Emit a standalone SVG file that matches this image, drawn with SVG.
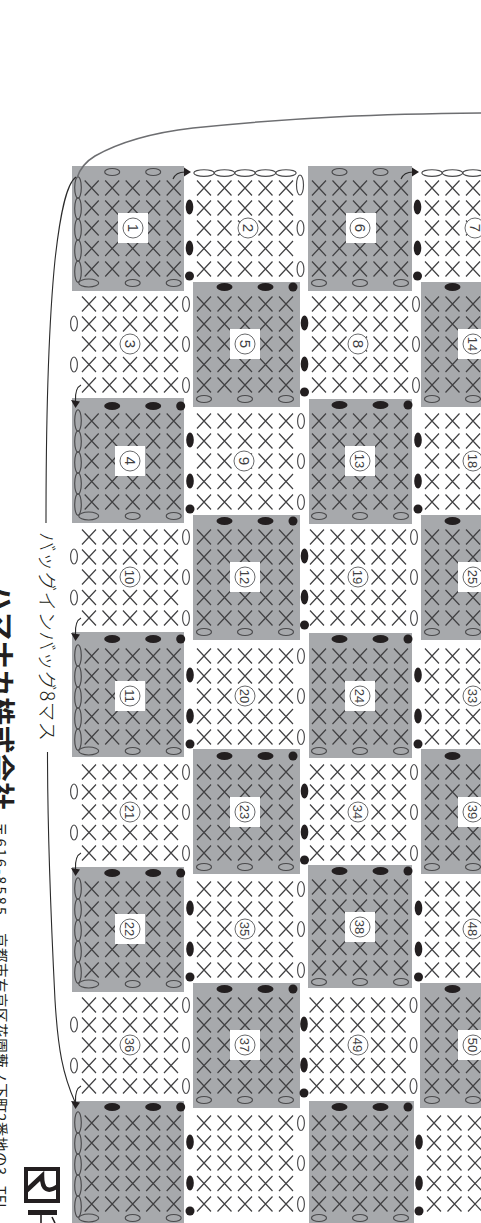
<svg xmlns="http://www.w3.org/2000/svg" width="481" height="1223" viewBox="0 0 481 1223">
<style>
.g{fill:#a7a9ac}
.w{fill:#fff}
.xm{fill:none;stroke:#404042;stroke-width:1.2}
.o{fill:none;stroke:#4a4a4c;stroke-width:1.15}
.k{fill:#231f20}
.n{fill:#fff;stroke:#58595b;stroke-width:.9}
.d{font-family:"Liberation Sans",Arial,sans-serif;font-size:15px;fill:#404042;text-anchor:middle}
.dd{font-size:13px}
.c{fill:none;stroke:#2b2b2b;stroke-width:1.1}
.t{font-family:"Noto Sans CJK JP","Noto Sans",sans-serif;fill:#231f20}
</style>
<defs>
<path id="x" class="xm" d="M-7-7.5L7 7.5M7-7.5L-7 7.5"/>
<g id="xr"><use href="#x" x="-41"/><use href="#x" x="-20.5"/><use href="#x"/><use href="#x" x="20.5"/><use href="#x" x="41"/></g>
<g id="xg"><use href="#xr" y="-40"/><use href="#xr" y="-20"/><use href="#xr"/><use href="#xr" y="20.5"/><use href="#xr" y="41"/></g>
<g id="topB"><ellipse class="k" cx="-20.5" cy="-56" rx="8" ry="4"/><ellipse class="k" cx="20.5" cy="-56" rx="8" ry="4"/><circle class="k" cx="48" cy="-56" r="4.5"/></g>
<g id="topO"><ellipse class="o" cx="-20.5" cy="-56" rx="7.5" ry="3.5"/><ellipse class="o" cx="20.5" cy="-56" rx="7.5" ry="3.5"/></g>
<g id="bot"><ellipse class="o" cx="-41" cy="55" rx="7.5" ry="3.5"/><ellipse class="o" cy="55" rx="7.5" ry="3.5"/><ellipse class="o" cx="41" cy="55" rx="7.5" ry="3.5"/></g>
<g id="botA"><ellipse class="o" cx="-44" cy="55" rx="10" ry="4"/><ellipse class="o" cy="55" rx="7.5" ry="3.5"/><ellipse class="o" cx="41" cy="55" rx="7.5" ry="3.5"/></g>
<g id="chain"><ellipse class="o" cy="-40.5" rx="3.3" ry="10.8"/><ellipse class="o" cy="-19.5" rx="3.3" ry="10.8"/><ellipse class="o" cy="1.5" rx="3.3" ry="10.8"/><ellipse class="o" cy="22.5" rx="3.3" ry="10.8"/><ellipse class="o" cy="43.5" rx="3.3" ry="10.8"/></g>
<g id="side"><ellipse class="k" cy="-21" rx="3.8" ry="7.5"/><ellipse class="k" cy="20" rx="3.8" ry="7.5"/><circle class="k" cy="48" r="4.5"/></g>
<ellipse id="z" class="o" rx="3.4" ry="7.5"/>
<g id="zr"><use href="#z" y="-40"/><use href="#z"/><use href="#z" y="41"/></g>
<g id="zl"><use href="#z" y="-20.5"/><use href="#z" y="20.5"/></g>
<g id="top1"><ellipse class="o" cx="-41" cy="-55" rx="10.2" ry="3.3"/><ellipse class="o" cx="-20.5" cy="-55" rx="10.2" ry="3.3"/><ellipse class="o" cy="-55" rx="10.2" ry="3.3"/><ellipse class="o" cx="20.5" cy="-55" rx="10.2" ry="3.3"/><ellipse class="o" cx="41" cy="-55" rx="10.2" ry="3.3"/></g>
<g id="arr"><path class="c" d="M81-1C77 1 75 5 75.500 15"/><path class="k" d="M71 14L80 15.500L75.500 22Z"/></g>
<g id="arrR"><path class="c" d="M0 7C2 2 6 0 12 0"/><path class="k" d="M11-4.500L18 0L11 4.500Z"/></g>
</defs>

<g id="cell-1"><rect class="g" x="72" y="166" width="112" height="125"/><use href="#xg" x="132.700" y="228"/><use href="#chain" x="78" y="228"/><use href="#topO" x="132.700" y="228"/><use href="#botA" x="132.700" y="228"/><rect class="w" x="118" y="213" width="30" height="30"/><circle class="n" cx="133" cy="228" r="10"/><text class="d" transform="translate(133,228) rotate(90)" dy=".35em">1</text></g>
<g id="cell-3"><use href="#xg" x="130" y="344"/><use href="#zr" x="186" y="344"/><use href="#zl" x="74" y="344"/><circle class="n" cx="130" cy="344" r="10"/><text class="d" transform="translate(130,344) rotate(90)" dy=".35em">3</text></g>
<g id="cell-4"><rect class="g" x="72" y="398" width="112" height="125"/><use href="#xg" x="132.700" y="461"/><use href="#chain" x="78" y="461"/><use href="#topB" x="132.700" y="462"/><use href="#botA" x="132.700" y="461"/><rect class="w" x="115" y="446" width="30" height="30"/><circle class="n" cx="130" cy="461" r="10"/><text class="d" transform="translate(130,461) rotate(90)" dy=".35em">4</text></g>
<g id="cell-10"><use href="#xg" x="130" y="577"/><use href="#zr" x="186" y="577"/><use href="#zl" x="74" y="577"/><circle class="n" cx="130" cy="577" r="10"/><text class="d dd" transform="translate(130,577) rotate(90)" dy=".35em">10</text></g>
<g id="cell-11"><rect class="g" x="72" y="632" width="112" height="125"/><use href="#xg" x="132.700" y="696"/><use href="#chain" x="78" y="696"/><use href="#topB" x="132.700" y="695"/><use href="#botA" x="132.700" y="696"/><rect class="w" x="115" y="681" width="30" height="30"/><circle class="n" cx="130" cy="696" r="10"/><text class="d dd" transform="translate(130,696) rotate(90)" dy=".35em">11</text></g>
<g id="cell-21"><use href="#xg" x="130" y="812"/><use href="#zr" x="186" y="812"/><use href="#zl" x="74" y="812"/><circle class="n" cx="130" cy="812" r="10"/><text class="d dd" transform="translate(130,812) rotate(90)" dy=".35em">21</text></g>
<g id="cell-22"><rect class="g" x="72" y="867" width="112" height="125"/><use href="#xg" x="132.700" y="929"/><use href="#chain" x="78" y="929"/><use href="#topB" x="132.700" y="929"/><use href="#botA" x="132.700" y="929"/><rect class="w" x="115" y="914" width="30" height="30"/><circle class="n" cx="130" cy="929" r="10"/><text class="d dd" transform="translate(130,929) rotate(90)" dy=".35em">22</text></g>
<g id="cell-36"><use href="#xg" x="130" y="1045"/><use href="#zr" x="186" y="1045"/><use href="#zl" x="74" y="1045"/><circle class="n" cx="130" cy="1045" r="10"/><text class="d dd" transform="translate(130,1045) rotate(90)" dy=".35em">36</text></g>
<g id="cell-a9"><rect class="g" x="72" y="1101" width="112" height="122"/><use href="#xg" x="132.700" y="1163"/><use href="#chain" x="78" y="1163"/><use href="#topB" x="132.700" y="1163"/><use href="#botA" x="132.700" y="1163"/></g>

<g id="cell-2"><use href="#xg" x="245" y="228"/><use href="#top1" x="245" y="228"/><ellipse class="o" cx="300" cy="185" rx="3.500" ry="10"/><use href="#z" x="300.500" y="228"/><use href="#z" x="300.500" y="269"/><use href="#side" x="189.500" y="228"/><circle class="n" cx="248" cy="228" r="10"/><text class="d" transform="translate(248,228) rotate(90)" dy=".35em">2</text></g>
<g id="cell-5"><rect class="g" x="193" y="282" width="107" height="125"/><use href="#xg" x="245" y="344"/><use href="#topB" x="245" y="343"/><use href="#bot" x="245" y="344"/><rect class="w" x="230" y="329" width="30" height="30"/><circle class="n" cx="245" cy="344" r="10"/><text class="d" transform="translate(245,344) rotate(90)" dy=".35em">5</text></g>
<g id="cell-9"><use href="#xg" x="245" y="461"/><use href="#zr" x="301" y="461"/><use href="#side" x="190" y="461"/><circle class="n" cx="244" cy="461" r="10"/><text class="d" transform="translate(244,461) rotate(90)" dy=".35em">9</text></g>
<g id="cell-12"><rect class="g" x="193" y="515" width="107" height="125"/><use href="#xg" x="245" y="577"/><use href="#topB" x="245" y="577"/><use href="#bot" x="245" y="577"/><rect class="w" x="230" y="562" width="30" height="30"/><circle class="n" cx="245" cy="577" r="10"/><text class="d dd" transform="translate(245,577) rotate(90)" dy=".35em">12</text></g>
<g id="cell-20"><use href="#xg" x="245" y="696"/><use href="#zr" x="301" y="696"/><use href="#side" x="190" y="696"/><circle class="n" cx="245" cy="696" r="10"/><text class="d dd" transform="translate(245,696) rotate(90)" dy=".35em">20</text></g>
<g id="cell-23"><rect class="g" x="193" y="749" width="107" height="125"/><use href="#xg" x="245" y="812"/><use href="#topB" x="245" y="812"/><use href="#bot" x="245" y="812"/><rect class="w" x="230" y="797" width="30" height="30"/><circle class="n" cx="245" cy="812" r="10"/><text class="d dd" transform="translate(245,812) rotate(90)" dy=".35em">23</text></g>
<g id="cell-35"><use href="#xg" x="245" y="929"/><use href="#zr" x="301" y="929"/><use href="#side" x="190" y="929"/><circle class="n" cx="245" cy="929" r="10"/><text class="d dd" transform="translate(245,929) rotate(90)" dy=".35em">35</text></g>
<g id="cell-37"><rect class="g" x="193" y="983" width="107" height="125"/><use href="#xg" x="245" y="1045"/><use href="#topB" x="245" y="1045"/><use href="#bot" x="245" y="1045"/><rect class="w" x="230" y="1030" width="30" height="30"/><circle class="n" cx="245" cy="1045" r="10"/><text class="d dd" transform="translate(245,1045) rotate(90)" dy=".35em">37</text></g>
<g id="cell-b9"><use href="#xg" x="245" y="1163"/><use href="#zr" x="301" y="1163"/><use href="#side" x="190" y="1163"/></g>

<g id="cell-6"><rect class="g" x="308" y="166" width="104" height="125"/><use href="#xg" x="360" y="228"/><use href="#topO" x="360" y="228"/><use href="#bot" x="360" y="228"/><rect class="w" x="346" y="213" width="30" height="30"/><circle class="n" cx="360" cy="228" r="10"/><text class="d" transform="translate(360,228) rotate(90)" dy=".35em">6</text></g>
<g id="cell-8"><use href="#xg" x="360" y="344"/><use href="#zr" x="416" y="344"/><use href="#side" x="304.500" y="344"/><circle class="n" cx="358" cy="344" r="10"/><text class="d" transform="translate(358,344) rotate(90)" dy=".35em">8</text></g>
<g id="cell-13"><rect class="g" x="309" y="399" width="103" height="125"/><use href="#xg" x="360" y="461"/><use href="#topB" x="360" y="461"/><use href="#bot" x="360" y="461"/><rect class="w" x="345" y="446" width="30" height="30"/><circle class="n" cx="360" cy="461" r="10"/><text class="d dd" transform="translate(360,461) rotate(90)" dy=".35em">13</text></g>
<g id="cell-19"><use href="#xg" x="358" y="577"/><use href="#zr" x="414" y="577"/><use href="#side" x="304.500" y="577"/><circle class="n" cx="358" cy="577" r="10"/><text class="d dd" transform="translate(358,577) rotate(90)" dy=".35em">19</text></g>
<g id="cell-24"><rect class="g" x="309" y="633" width="103" height="125"/><use href="#xg" x="360" y="696"/><use href="#topB" x="360" y="695"/><use href="#bot" x="360" y="696"/><rect class="w" x="345" y="681" width="30" height="30"/><circle class="n" cx="360" cy="696" r="10"/><text class="d dd" transform="translate(360,696) rotate(90)" dy=".35em">24</text></g>
<g id="cell-34"><use href="#xg" x="358" y="812"/><use href="#zr" x="414" y="812"/><use href="#side" x="304.500" y="812"/><circle class="n" cx="358" cy="812" r="10"/><text class="d dd" transform="translate(358,812) rotate(90)" dy=".35em">34</text></g>
<g id="cell-38"><rect class="g" x="308" y="865" width="104" height="123"/><use href="#xg" x="360" y="927"/><use href="#topB" x="360" y="927"/><use href="#bot" x="360" y="927"/><rect class="w" x="345" y="912" width="30" height="30"/><circle class="n" cx="360" cy="927" r="10"/><text class="d dd" transform="translate(360,927) rotate(90)" dy=".35em">38</text></g>
<g id="cell-49"><use href="#xg" x="357.600" y="1045"/><use href="#zr" x="413.500" y="1045"/><use href="#side" x="304" y="1045"/><circle class="n" cx="358" cy="1045" r="10"/><text class="d dd" transform="translate(358,1045) rotate(90)" dy=".35em">49</text></g>
<g id="cell-c9"><rect class="g" x="309" y="1101" width="105" height="122"/><use href="#xg" x="360" y="1163"/><use href="#topB" x="360" y="1163"/><use href="#bot" x="360" y="1163"/></g>

<g id="cell-7"><use href="#xg" x="473" y="228"/><use href="#top1" x="473" y="228"/><use href="#side" x="417.500" y="228"/><circle class="n" cx="475" cy="228" r="10"/><text class="d" transform="translate(475,228) rotate(90)" dy=".35em">7</text></g>
<g id="cell-14"><rect class="g" x="421" y="282" width="60" height="125"/><use href="#xg" x="473" y="344"/><use href="#topB" x="473" y="343"/><use href="#bot" x="473" y="344"/><rect class="w" x="458" y="329" width="30" height="30"/><circle class="n" cx="473" cy="344" r="10"/><text class="d dd" transform="translate(473,344) rotate(90)" dy=".35em">14</text></g>
<g id="cell-18"><use href="#xg" x="473" y="461"/><use href="#side" x="418" y="461"/><circle class="n" cx="473" cy="461" r="10"/><text class="d dd" transform="translate(473,461) rotate(90)" dy=".35em">18</text></g>
<g id="cell-25"><rect class="g" x="421" y="515" width="60" height="125"/><use href="#xg" x="473" y="577"/><use href="#topB" x="473" y="577"/><use href="#bot" x="473" y="577"/><rect class="w" x="458" y="562" width="30" height="30"/><circle class="n" cx="473" cy="577" r="10"/><text class="d dd" transform="translate(473,577) rotate(90)" dy=".35em">25</text></g>
<g id="cell-33"><use href="#xg" x="473" y="696"/><use href="#side" x="418" y="696"/><circle class="n" cx="473" cy="696" r="10"/><text class="d dd" transform="translate(473,696) rotate(90)" dy=".35em">33</text></g>
<g id="cell-39"><rect class="g" x="421" y="749" width="60" height="125"/><use href="#xg" x="473" y="812"/><use href="#topB" x="473" y="812"/><use href="#bot" x="473" y="812"/><rect class="w" x="458" y="797" width="30" height="30"/><circle class="n" cx="473" cy="812" r="10"/><text class="d dd" transform="translate(473,812) rotate(90)" dy=".35em">39</text></g>
<g id="cell-48"><use href="#xg" x="473" y="929"/><use href="#side" x="418.500" y="929"/><circle class="n" cx="473" cy="929" r="10"/><text class="d dd" transform="translate(473,929) rotate(90)" dy=".35em">48</text></g>
<g id="cell-50"><rect class="g" x="420" y="983" width="61" height="125"/><use href="#xg" x="473" y="1045"/><use href="#topB" x="473" y="1045"/><use href="#bot" x="473" y="1045"/><rect class="w" x="458" y="1030" width="30" height="30"/><circle class="n" cx="473" cy="1045" r="10"/><text class="d dd" transform="translate(473,1045) rotate(90)" dy=".35em">50</text></g>
<g id="cell-d9"><use href="#xg" x="475" y="1163"/><use href="#side" x="419" y="1163"/></g>

<g id="connectors">
<path d="M481 113C380 114 300 117 193 128C150 133 118 143 95 156C85 162 80 168 77 178" fill="none" stroke="#6d6e71" stroke-width="1.500"/>
<path class="c" d="M76 177C66 184 60 215 55 260C50 310 46 400 46 523"/>
<path class="c" d="M47.500 752C47.500 830 50 900 55 1000C58 1050 63 1075 75 1102"/>
<use href="#arr" y="386"/><use href="#arr" y="619"/><use href="#arr" y="854"/><use href="#arr" y="1087"/>
<use href="#arrR" x="173" y="172"/><use href="#arrR" x="401" y="172"/>
</g>

<g id="labels">
<text class="t" font-size="19.500" font-weight="300" textLength="209" transform="translate(39.500,532) rotate(90)">バッグインバッグ8マス</text>
<text class="t" font-size="28" font-weight="700" textLength="226" transform="translate(-10.500,584) rotate(90)">ハマナカ株式会社</text>
<text class="t" font-size="14.500" textLength="93" transform="translate(-5,822) rotate(90)">〒616-8585</text>
<text class="t" font-size="14.500" textLength="242" transform="translate(-5,933) rotate(90)">京都市右京区花園藪ノ下町2番地の3</text>
<text class="t" font-size="14.500" transform="translate(-5,1186) rotate(90)">TEL</text>
</g>

<g id="logo">
<rect x="26" y="1169" width="32" height="32" fill="none" stroke="#231f20" stroke-width="4"/>
<path d="M26 1191L42 1176C42 1190 48 1193 58 1186" fill="none" stroke="#231f20" stroke-width="4.500"/>
<rect class="k" x="28" y="1210" width="29" height="5"/>
<path d="M41 1215V1223M52 1217L55 1223" fill="none" stroke="#231f20" stroke-width="1.600"/>
</g>
</svg>
